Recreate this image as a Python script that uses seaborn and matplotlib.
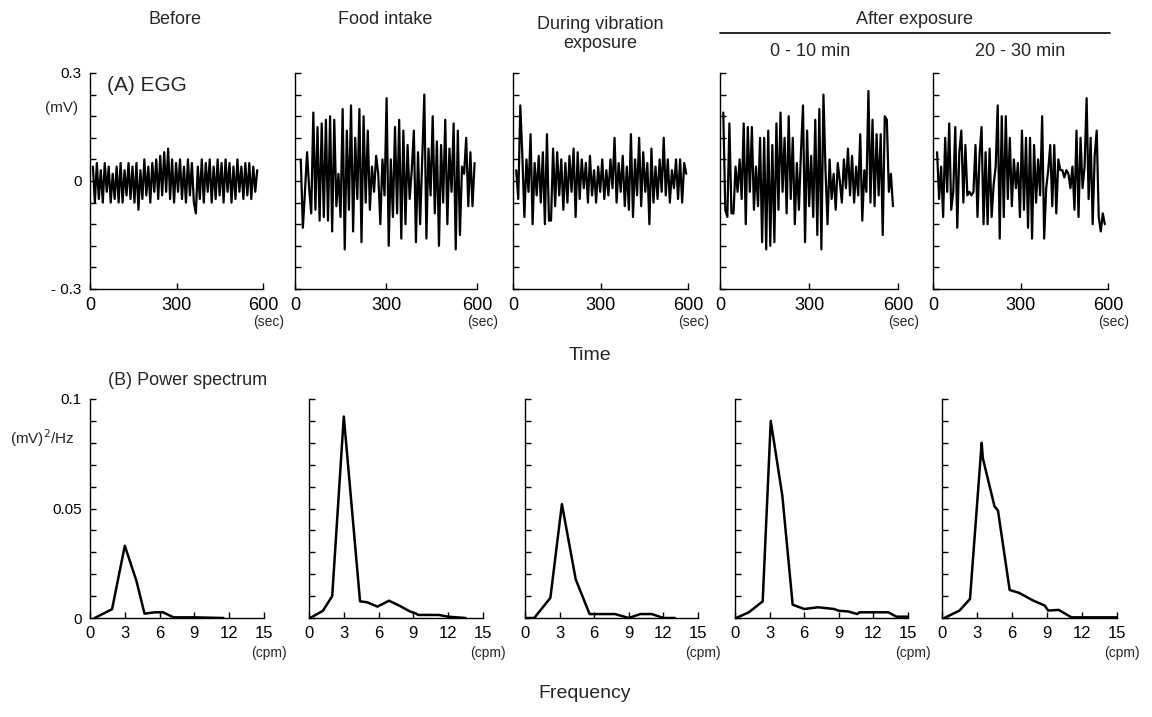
import matplotlib
matplotlib.use("Agg")
import matplotlib.pyplot as plt
import seaborn as sns
import numpy as np

sns.set_style("ticks")
plt.rcParams['font.family'] = ['Liberation Sans', 'DejaVu Sans']

# column headings
conditions = ["Before", "Food intake", "During vibration\nexposure", "0 - 10 min", "20 - 30 min"]

egg_start = [10, 19, 11, 11, 14]
egg_end = [580, 592, 594, 583, 589]
egg_before = [4, -6, 5, -5, 3, -6, 5, -3, 4, -6,
              2, -5, 4, -6, 5, -6, 3, -4, 5, -5,
              4, -6, 5, -8, 3, -5, 6, -4, 4, -6,
              5, -3, 6, -5, 7, -4, 8, -3, 9, -5,
              6, -6, 5, -3, 6, -5, 4, -6, 6, -4,
              5, -6, -9, 4, -5, 6, -6, 5, -3, 6,
              -6, 4, -5, 6, -4, 5, -6, 6, -3, 5,
              -6, 4, -5, 6, -3, 4, -5, 5, -4, 5,
              -5, 4, -3, 3]
egg_food = [6, -13, -3, 8, -2, -9, 19, -8, 15, -11,
            16, -10, 17, -11, 18, -14, 17, -7, 2, -10,
            20, -19, 14, -8, 21, -14, 12, -5, 20, -17,
            18, -6, 14, -8, 4, -3, 7, 2, -12, 6,
            -4, 23, -18, 6, -10, 15, -9, 17, -16, 14,
            -12, 10, -5, 3, 14, -17, 8, -12, 6, 24,
            -16, 9, -4, 18, -9, 11, -18, 10, -6, 17,
            -12, 9, -3, 16, -19, 14, -15, 4, 2, 12,
            -7, 8, -7, 5]
egg_vibration = [3, -5, 21, 7, -10, 6, -3, 13, -12, 5,
                 -4, 7, -6, 8, -12, 13, -11, -11, 9, -7,
                 8, -4, 6, -8, 5, -6, 7, -3, 9, -10,
                 8, -5, 6, -2, 5, -6, 7, -4, 3, -6,
                 4, -3, 6, -5, 3, -4, 6, -2, 12, -6,
                 5, -3, 7, -7, 4, -8, 13, -10, 6, -4,
                 12, -7, 8, -3, 5, -12, 9, -6, 4, -5,
                 6, -3, 12, -4, 6, -6, 3, -2, 6, -5,
                 6, -6, 5, 2]
egg_after_0_10 = [19, -8, -10, 16, -9, -9, 4, -3, 6, -5,
                  16, -12, 15, -3, 15, -8, 4, -7, 12, -17,
                  12, -19, 14, -18, 10, -17, 16, -8, 19, -3,
                  12, -9, 18, -5, 12, -12, 5, -8, 8, 21,
                  -17, 14, -7, 7, -10, 17, -15, 20, -19, 24,
                  3, -12, 6, -5, 2, -8, 5, 0, -6, 6,
                  -2, 9, -4, 7, -6, 4, -4, 13, -11, 3,
                  -3, 25, -6, 17, -7, 13, -4, 13, -15, 18,
                  17, -3, 2, -7]
egg_after_20_30 = [8, -5, 4, -10, 12, -3, 16, -8, -3, 15,
                   -13, 8, 14, -6, 10, -4, -3, -4, -3, 10,
                   -10, 7, 15, -12, 8, -12, 9, -10, -1, 4,
                   21, -16, 18, -10, 18, -5, 12, -7, 6, -2,
                   5, -10, 14, -8, 12, -13, 12, -16, 10, -6,
                   6, -4, 18, -16, -2, 3, 10, -7, 10, -9,
                   6, 3, 3, 1, 3, 2, -2, 4, -8, 14,
                   -10, 12, -2, 4, 23, -5, 12, -12, 7, 14,
                   -10, -14, -9, -12]
egg_traces = [egg_before, egg_food, egg_vibration, egg_after_0_10, egg_after_20_30]

# power spectra: frequency (cpm) and power ((mV)^2/Hz)
freq_before = [0.4, 1.9, 3.0, 4.0, 4.7, 5.6, 6.3, 7.2, 9.0, 11.5]
pow_before = [0, 0.004, 0.033, 0.017, 0.002, 0.0026, 0.0026, 0.0003, 0.0003, 0]
freq_food = [0.1, 1.2, 2.0, 3.0, 4.4, 5.0, 5.9, 6.9, 7.8, 8.7, 9.2, 9.4, 11.2, 12.0, 13.5]
pow_food = [0, 0.0033, 0.010, 0.092, 0.0076, 0.0072, 0.0052, 0.0079, 0.0056,
            0.003, 0.0021, 0.0014, 0.0014, 0.0006, 0]
freq_vibration = [0.1, 0.8, 2.2, 3.2, 4.4, 5.6, 7.8, 9.0, 10.0, 11.0, 12.0, 13.0]
pow_vibration = [0, 0, 0.0092, 0.052, 0.0176, 0.0018, 0.0018, 0, 0.0018, 0.0018, 0, 0]
freq_after_0_10 = [0.1, 1.2, 2.4, 3.1, 4.1, 5.0, 6.0, 7.2, 8.6, 9.0, 9.8, 10.6, 10.8,
                   13.3, 14.0, 15.0]
pow_after_0_10 = [0, 0.0026, 0.0076, 0.090, 0.056, 0.0061, 0.0041, 0.0049, 0.0041,
                  0.0033, 0.003, 0.0018, 0.0026, 0.0026, 0.0006, 0.0006]
freq_after_20_30 = [0.2, 1.5, 2.4, 3.4, 3.5, 4.5, 4.8, 5.8, 6.6, 7.8, 8.8, 9.1, 10.0,
                    11.1, 15.0]
pow_after_20_30 = [0, 0.0034, 0.0087, 0.080, 0.073, 0.051, 0.049, 0.0128, 0.0115,
                   0.008, 0.0057, 0.0034, 0.0037, 0.0003, 0.0003]
spec_freqs = [freq_before, freq_food, freq_vibration, freq_after_0_10, freq_after_20_30]
spec_powers = [pow_before, pow_food, pow_vibration, pow_after_0_10, pow_after_20_30]

W, H = 1152, 717
fig = plt.figure(figsize=(W / 100, H / 100), dpi=100)

# panel geometry in pixels: (left, right)
top_cols = [(90, 263), (295, 477), (513, 688), (720, 898), (933, 1108)]
bot_cols = [(90, 264), (309, 483), (525, 698), (735, 908), (942, 1117)]
top_y = (73, 289)
bot_y = (399, 618)


def make_ax(col, rows):
    l, r = col
    t, b = rows
    return fig.add_axes([l / W, 1 - b / H, (r - l) / W, (b - t) / H])


def style_ax(ax):
    sns.despine(ax=ax)
    for s in ["left", "bottom"]:
        ax.spines[s].set_linewidth(1.0)
        ax.spines[s].set_color("black")
    ax.tick_params(direction="in", length=4, width=1.0, colors="black",
                   labelsize=13, pad=6)
    ax.set_xlabel("")
    ax.set_ylabel("")


egg_yticks = np.round(np.arange(-0.3, 0.31, 0.06), 2)
egg_ylabels = {-0.3: "- 0.3", 0.0: "0", 0.3: "0.3"}
spec_yticks = np.round(np.arange(0, 0.101, 0.01), 2)
spec_ylabels = {0.0: "0", 0.05: "0.05", 0.1: "0.1"}

for i in range(5):
    # (A) EGG
    ax = make_ax(top_cols[i], top_y)
    vals = np.array(egg_traces[i]) / 100.0
    t = np.linspace(egg_start[i], egg_end[i], len(vals))
    sns.lineplot(x=t, y=vals, ax=ax, color="black", lw=1.6)
    ax.set_xlim(0, 600)
    ax.set_ylim(-0.3, 0.3)
    ax.set_xticks([0, 300, 600])
    ax.set_yticks(egg_yticks)
    style_ax(ax)
    if i == 0:
        ax.set_yticklabels([egg_ylabels.get(float(v), "") for v in egg_yticks], fontsize=11)
        ax.text(-0.26, 0.84, "(mV)", transform=ax.transAxes, fontsize=11,
                ha="left", va="center")
        ax.text(0.10, 0.94, "(A) EGG", transform=ax.transAxes, fontsize=15,
                ha="left", va="center")
    else:
        ax.set_yticklabels([])
    ax.text(1.03, -0.17, "(sec)", transform=ax.transAxes, fontsize=10, ha="center")

    # (B) power spectrum
    ax = make_ax(bot_cols[i], bot_y)
    sns.lineplot(x=spec_freqs[i], y=spec_powers[i], ax=ax, color="black", lw=1.8)
    ax.set_xlim(0, 15)
    ax.set_ylim(0, 0.1)
    ax.set_xticks([0, 3, 6, 9, 12, 15])
    ax.set_yticks(spec_yticks)
    style_ax(ax)
    ax.tick_params(axis="x", labelsize=12)
    if i == 0:
        ax.set_yticklabels([spec_ylabels.get(float(v), "") for v in spec_yticks], fontsize=11)
        ax.text(-0.46, 0.82, "(mV)$^2$/Hz", transform=ax.transAxes, fontsize=11,
                ha="left", va="center")
    else:
        ax.set_yticklabels([])
    ax.text(1.03, -0.18, "(cpm)", transform=ax.transAxes, fontsize=10, ha="center")

# column headings
fig.text(175 / W, 1 - 20 / H, conditions[0], ha="center", va="center", fontsize=13)
fig.text(385 / W, 1 - 20 / H, conditions[1], ha="center", va="center", fontsize=13)
fig.text(600 / W, 1 - 34 / H, conditions[2], ha="center", va="center", fontsize=13,
         linespacing=1.1)
fig.text(915 / W, 1 - 20 / H, "After exposure", ha="center", va="center", fontsize=13)
fig.add_artist(plt.Line2D([720 / W, 1110 / W], [1 - 33 / H, 1 - 33 / H],
                          color="black", lw=1.2))
fig.text(810 / W, 1 - 52 / H, conditions[3], ha="center", va="center", fontsize=13)
fig.text(1020 / W, 1 - 52 / H, conditions[4], ha="center", va="center", fontsize=13)

fig.text(590 / W, 1 - 355 / H, "Time", ha="center", va="center", fontsize=14)
fig.text(108 / W, 1 - 380 / H, "(B) Power spectrum", ha="left", va="center", fontsize=13)
fig.text(585 / W, 1 - 693 / H, "Frequency", ha="center", va="center", fontsize=14)

fig.savefig("out.png", dpi=100)
